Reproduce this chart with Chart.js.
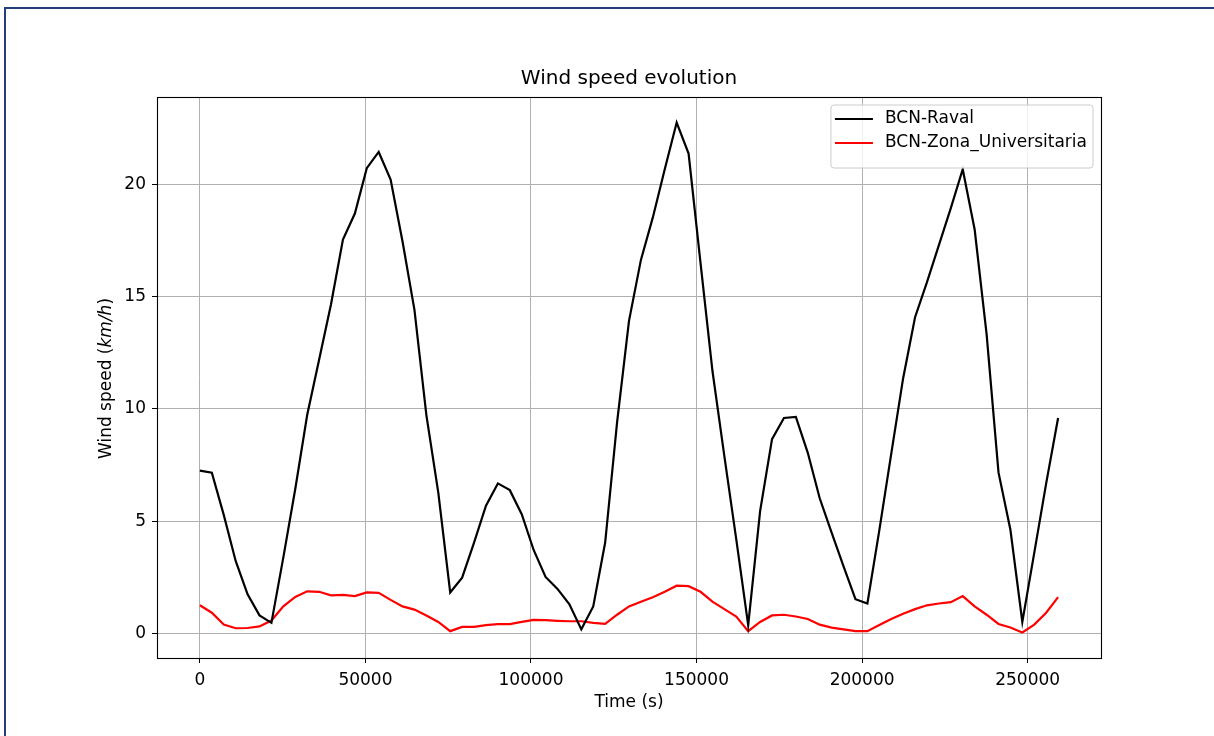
<!DOCTYPE html>
<html><head><meta charset="utf-8">
<script src="https://cdn.jsdelivr.net/npm/chart.js@4.4.1/dist/chart.umd.min.js"></script>
<style>
html,body{margin:0;padding:0;background:#fff;overflow:hidden;width:1214px;height:736px}
#frame{position:absolute;left:4px;top:7px;width:1300px;height:800px;border-left:2px solid #213f7e;border-top:2px solid #213f7e;}
#c{position:absolute;left:0;top:0}
</style></head><body>
<div id="frame"></div>
<canvas id="c" width="1214" height="736"></canvas>
<script>
// ---- data ----
const timeSeconds = [0,3600,7200,10800,14400,18000,21600,25200,28800,32400,36000,39600,43200,46800,50400,54000,57600,61200,64800,68400,72000,75600,79200,82800,86400,90000,93600,97200,100800,104400,108000,111600,115200,118800,122400,126000,129600,133200,136800,140400,144000,147600,151200,154800,158400,162000,165600,169200,172800,176400,180000,183600,187200,190800,194400,198000,201600,205200,208800,212400,216000,219600,223200,226800,230400,234000,237600,241200,244800,248400,252000,255600,259200];
const ravalSpeed = [7.26,7.17,5.29,3.24,1.76,0.82,0.49,3.40,6.44,9.73,12.19,14.66,17.53,18.69,20.71,21.43,20.20,17.45,14.41,9.73,6.28,1.84,2.50,4.06,5.70,6.69,6.39,5.32,3.73,2.53,2.00,1.31,0.20,1.22,4.06,9.40,13.92,16.63,18.52,20.66,22.74,21.36,16.50,11.70,7.90,4.20,0.39,5.46,8.66,9.60,9.65,8.05,6.03,4.50,3.00,1.54,1.35,4.60,8.00,11.37,14.08,15.64,17.29,18.93,20.66,17.98,13.34,7.18,4.63,0.53,3.60,6.69,9.60];
const zonaUnivSpeed = [1.27,0.94,0.41,0.25,0.26,0.33,0.59,1.22,1.64,1.89,1.87,1.71,1.73,1.68,1.84,1.82,1.51,1.22,1.08,0.82,0.53,0.12,0.31,0.31,0.39,0.43,0.43,0.53,0.62,0.61,0.58,0.56,0.56,0.49,0.44,0.85,1.22,1.43,1.63,1.87,2.14,2.12,1.87,1.43,1.10,0.77,0.12,0.53,0.82,0.85,0.77,0.66,0.41,0.28,0.20,0.12,0.12,0.39,0.66,0.89,1.10,1.27,1.35,1.41,1.68,1.22,0.85,0.44,0.28,0.06,0.41,0.94,1.63];
const xTickValues = [0,50000,100000,150000,200000,250000];
const yTickValues = [0,5,10,15,20];
const seriesLabels = ['BCN-Raval','BCN-Zona_Universitaria'];
const seriesColors = ['#000000','#ff0000'];
const chartTitle = 'Wind speed evolution';
const xAxisTitle = 'Time (s)';
const yAxisTitleParts = [['Wind speed (', false], ['km/h', true], [')', false]];

// ---- auto limits like matplotlib (5% margins) ----
function padRange(vals){ const mn=Math.min(...vals), mx=Math.max(...vals), m=(mx-mn)*0.05; return [mn-m, mx+m]; }
const [xMin,xMax] = padRange(timeSeconds);
const [yMin,yMax] = padRange(ravalSpeed.concat(zonaUnivSpeed));

const FONT = 'DejaVu Sans';
const FS = 17;
Chart.defaults.font.family = FONT;
Chart.defaults.color = '#000';

// center the title over the plot area (as matplotlib does)
const titleCenterPlugin = {
  id:'titleCenter',
  afterLayout(chart){
    const t = chart.titleBlock, a = chart.chartArea;
    if (t && a) { t.left = a.left; t.right = a.right; t.width = a.right - a.left; }
  }
};
const spinesPlugin = {
  id:'spines',
  afterDatasetsDraw(chart){
    const {ctx, chartArea:a} = chart;
    ctx.save(); ctx.strokeStyle='#000'; ctx.lineWidth=1.1;
    ctx.strokeRect(Math.round(a.left)+0.5, Math.round(a.top)+0.5, Math.round(a.right-a.left), Math.round(a.bottom-a.top));
    ctx.restore();
  }
};
const yTitlePlugin = {
  id:'ytitle',
  afterDraw(chart){
    const {ctx, chartArea:a} = chart;
    ctx.save();
    const fonts = yAxisTitleParts.map(p => (p[1]?'italic ':'') + FS + 'px "' + FONT + '"');
    let total = 0; const widths = [];
    yAxisTitleParts.forEach((p,i)=>{ ctx.font = fonts[i]; const w = ctx.measureText(p[0]).width; widths.push(w); total += w; });
    ctx.translate(107, (a.top + a.bottom)/2 + 1);
    ctx.rotate(-Math.PI/2);
    ctx.fillStyle = '#000'; ctx.textBaseline = 'middle'; ctx.textAlign = 'left';
    let x = -total/2;
    yAxisTitleParts.forEach((p,i)=>{ ctx.font = fonts[i]; ctx.fillText(p[0], x, 0); x += widths[i]; });
    ctx.restore();
  }
};
const legendPlugin = {
  id:'mplLegend',
  afterDraw(chart){
    const {ctx, chartArea:a} = chart;
    ctx.save();
    ctx.font = FS + 'px "' + FONT + '"';
    const labels = chart.data.datasets.map(d=>d.label);
    const textW = Math.max(...labels.map(t=>ctx.measureText(t).width));
    const right = a.right - 8, top = a.top + 8;
    const handleLen = 38, pad = 4, gap = 12, rowH = 24;
    const w = pad + handleLen + gap + textW + 6;
    const h = rowH*labels.length + 15;
    const left = right - w;
    const r = 3;
    ctx.beginPath();
    ctx.moveTo(left+r, top); ctx.lineTo(right-r, top); ctx.quadraticCurveTo(right, top, right, top+r);
    ctx.lineTo(right, top+h-r); ctx.quadraticCurveTo(right, top+h, right-r, top+h);
    ctx.lineTo(left+r, top+h); ctx.quadraticCurveTo(left, top+h, left, top+h-r);
    ctx.lineTo(left, top+r); ctx.quadraticCurveTo(left, top, left+r, top);
    ctx.closePath();
    ctx.fillStyle = 'rgba(255,255,255,0.8)'; ctx.fill();
    ctx.strokeStyle = '#cccccc'; ctx.lineWidth = 1; ctx.stroke();
    chart.data.datasets.forEach((d,i)=>{
      const cy = top + 14 + i*rowH;
      ctx.strokeStyle = d.borderColor; ctx.lineWidth = 2.2;
      ctx.beginPath(); ctx.moveTo(left+pad, cy); ctx.lineTo(left+pad+handleLen, cy); ctx.stroke();
      ctx.fillStyle = '#000'; ctx.textBaseline='middle'; ctx.textAlign='left';
      ctx.fillText(d.label, left+pad+handleLen+gap, cy);
    });
    ctx.restore();
  }
};

new Chart(document.getElementById('c'), {
  type:'line',
  data:{
    datasets:[
      {label:seriesLabels[0], data:timeSeconds.map((t,i)=>({x:t,y:ravalSpeed[i]})), borderColor:seriesColors[0], backgroundColor:seriesColors[0], borderWidth:2.2, pointRadius:0, tension:0, fill:false},
      {label:seriesLabels[1], data:timeSeconds.map((t,i)=>({x:t,y:zonaUnivSpeed[i]})), borderColor:seriesColors[1], backgroundColor:seriesColors[1], borderWidth:2.2, pointRadius:0, tension:0, fill:false}
    ]
  },
  options:{
    responsive:false, animation:false, devicePixelRatio:1,
    layout:{padding:{left:0,right:113,top:0,bottom:0}},
    plugins:{
      legend:{display:false}, tooltip:{enabled:false},
      title:{display:true, text:chartTitle, color:'#000', font:{size:20, weight:'normal'}, padding:{top:67,bottom:6}}
    },
    scales:{
      x:{type:'linear', min:xMin, max:xMax,
        afterBuildTicks(s){ s.ticks = xTickValues.map(v=>({value:v})); },
        afterFit(s){ s.height = 78; },
        ticks:{color:'#000', font:{size:FS}, padding:7, maxRotation:0, autoSkip:false, callback:v=>String(v)},
        grid:{color:'#b0b0b0', lineWidth:1, tickColor:'#000', tickLength:5},
        border:{display:false},
        title:{display:true, text:xAxisTitle, color:'#000', font:{size:FS}, padding:{top:0,bottom:23.5}}
      },
      y:{type:'linear', min:yMin, max:yMax,
        afterBuildTicks(s){ s.ticks = yTickValues.map(v=>({value:v})); },
        afterFit(s){ s.width = 157; },
        ticks:{color:'#000', font:{size:FS}, padding:6, autoSkip:false, callback:v=>String(v)},
        grid:{color:'#b0b0b0', lineWidth:1, tickColor:'#000', tickLength:5},
        border:{display:false}
      }
    }
  },
  plugins:[titleCenterPlugin, spinesPlugin, yTitlePlugin, legendPlugin]
});
</script>
</body></html>
